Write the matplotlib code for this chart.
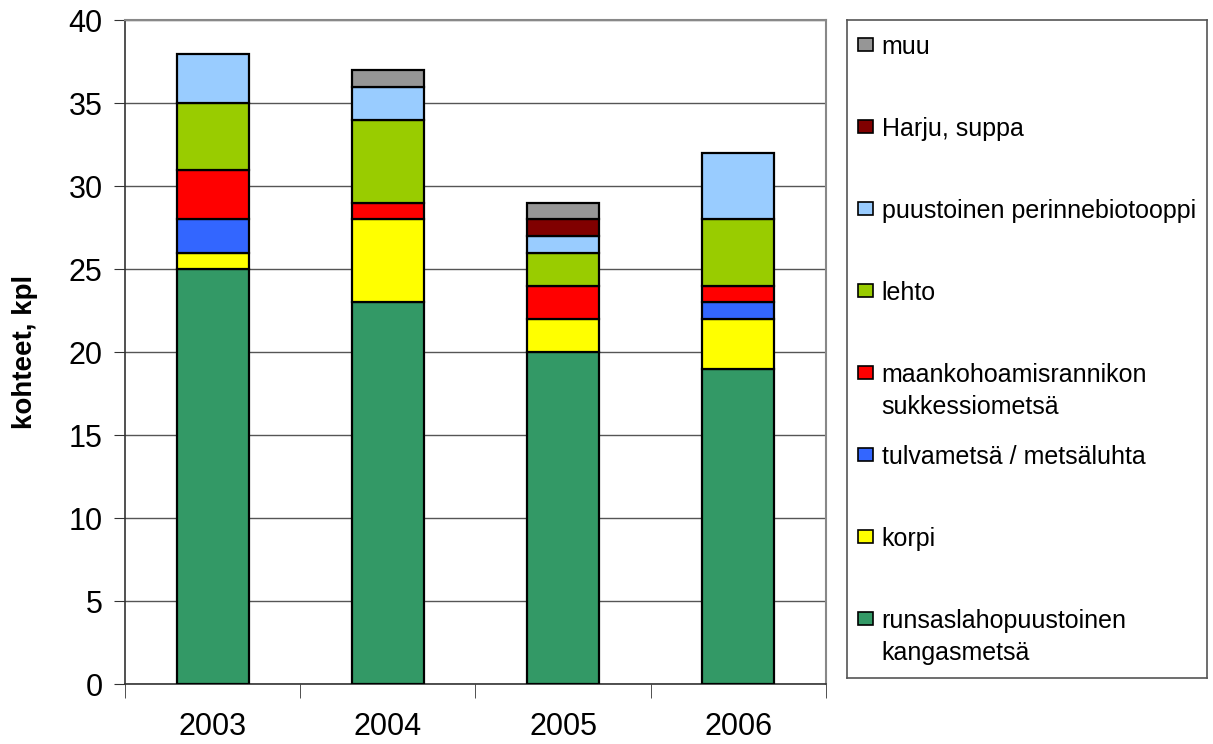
import matplotlib
matplotlib.use("Agg")
import matplotlib.pyplot as plt
from matplotlib.patches import Rectangle
import numpy as np

plt.rcParams["font.family"] = ["Liberation Sans", "DejaVu Sans"]

years = ["2003", "2004", "2005", "2006"]
# stacking order, bottom to top
categories = [
    "runsaslahopuustoinen\nkangasmetsä",
    "korpi",
    "tulvametsä / metsäluhta",
    "maankohoamisrannikon\nsukkessiometsä",
    "lehto",
    "puustoinen perinnebiotooppi",
    "Harju, suppa",
    "muu",
]
runsaslahopuustoinen = [25, 23, 20, 19]
korpi = [1, 5, 2, 3]
tulvametsa = [2, 0, 0, 1]
maankohoamis = [3, 1, 2, 1]
lehto = [4, 5, 2, 4]
perinnebiotooppi = [3, 2, 1, 4]
harju = [0, 0, 1, 0]
muu = [0, 1, 1, 0]
series = [runsaslahopuustoinen, korpi, tulvametsa, maankohoamis,
          lehto, perinnebiotooppi, harju, muu]
colors = ["#339966", "#FFFF00", "#3366FF", "#FF0000",
          "#99CC00", "#99CCFF", "#800000", "#969696"]

fig = plt.figure(figsize=(12.13, 7.44), dpi=100)
ax = fig.add_axes([0.103, 0.0806, 0.578, 0.892])

x = np.arange(len(years)) + 0.5
bottom = np.zeros(len(years))
for vals, col in zip(series, colors):
    v = np.array(vals, float)
    mask = v > 0
    ax.bar(x[mask], v[mask], width=0.41, bottom=bottom[mask], color=col,
           edgecolor="black", linewidth=1.6, zorder=3)
    bottom += v

ax.set_xlim(0, 4)
ax.set_ylim(0, 40)
ax.set_yticks(range(0, 41, 5))
ax.yaxis.grid(True, color="#555555", lw=1.0, zorder=0)
ax.set_xticks(x)
ax.set_xticklabels(years)
ax.set_xticks(range(5), minor=True)
ax.tick_params(axis="x", which="major", length=0, pad=20, labelsize=22)
ax.tick_params(axis="x", which="minor", length=10, direction="out",
               color="#333333")
ax.tick_params(axis="y", length=8, direction="out", labelsize=22, pad=8,
               color="#333333")
for side in ("top", "right"):
    ax.spines[side].set_color("#888888")
    ax.spines[side].set_linewidth(1.5)
for side in ("left", "bottom"):
    ax.spines[side].set_color("#333333")
    ax.spines[side].set_linewidth(1.2)
ax.set_ylabel("kohteet, kpl", fontsize=20, fontweight="bold", labelpad=22)

# legend box, entries listed top to bottom in reverse stacking order
lax = fig.add_axes([0.698, 0.089, 0.297, 0.884])
lax.set_xlim(0, 360)
lax.set_ylim(658, 0)
lax.set_xticks([])
lax.set_yticks([])
for s in lax.spines.values():
    s.set_color("#555555")
    s.set_linewidth(1.2)
for i, (lab, col) in enumerate(zip(categories[::-1], colors[::-1])):
    yc = 25 + i * 82
    lax.add_patch(Rectangle((11, yc - 7), 15, 13, facecolor=col,
                            edgecolor="black", lw=1.2))
    for k, line in enumerate(lab.split("\n")):
        lax.text(35, yc + 9 + k * 32, line, fontsize=18, va="baseline",
                 ha="left")

fig.savefig("out.png", dpi=100)
